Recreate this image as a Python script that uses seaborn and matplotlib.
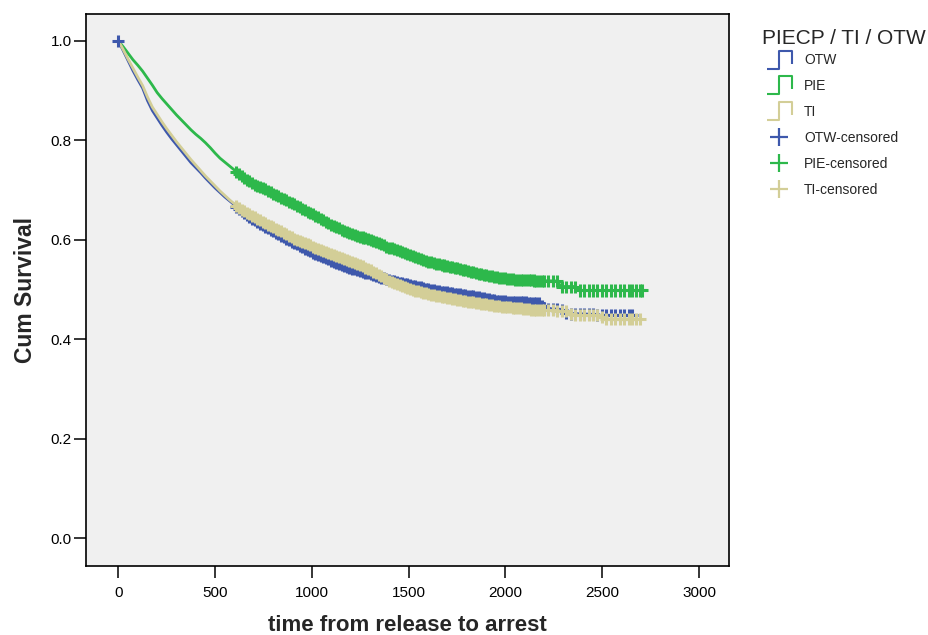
import numpy as np
import pandas as pd
import matplotlib
matplotlib.use("Agg")
import matplotlib.pyplot as plt
import seaborn as sns
from matplotlib.lines import Line2D
from matplotlib.path import Path

# Datos (Kaplan-Meier, supervivencia acumulada por grupo)
groups = ["OTW", "PIE", "TI"]

otw_time = [0, 25, 50, 75, 100, 125, 150, 175, 200, 225, 250, 275, 300, 325, 350, 375,
            400, 425, 450, 475, 500, 525, 550, 575, 600, 625, 650, 700, 750, 800, 850,
            900, 950, 1000, 1050, 1100, 1150, 1200, 1250, 1300, 1350, 1400, 1450, 1500,
            1550, 1600, 1650, 1700, 1750, 1800, 1850, 1900, 1950, 2000, 2050, 2100, 2150,
            2180, 2195, 2290, 2310, 2450, 2470, 2655]
otw_surv = [1.000, 0.980, 0.960, 0.940, 0.922, 0.905, 0.880, 0.860, 0.845, 0.830, 0.816,
            0.803, 0.791, 0.779, 0.767, 0.755, 0.745, 0.735, 0.724, 0.714, 0.704, 0.695,
            0.686, 0.678, 0.670, 0.661, 0.653, 0.640, 0.628, 0.617, 0.606, 0.595, 0.585,
            0.575, 0.566, 0.558, 0.550, 0.543, 0.537, 0.531, 0.525, 0.519, 0.514, 0.510,
            0.505, 0.501, 0.497, 0.494, 0.491, 0.488, 0.485, 0.481, 0.478, 0.476, 0.475,
            0.474, 0.473, 0.472, 0.462, 0.460, 0.452, 0.450, 0.448, 0.448]

pie_time = [0, 25, 50, 75, 100, 125, 150, 175, 200, 225, 250, 275, 300, 325, 350, 375,
            400, 425, 450, 475, 500, 525, 550, 575, 600, 625, 650, 700, 750, 800, 850,
            900, 950, 1000, 1050, 1100, 1150, 1200, 1250, 1300, 1350, 1400, 1450, 1500,
            1550, 1600, 1650, 1700, 1750, 1800, 1850, 1900, 1950, 2000, 2050, 2100, 2150,
            2270, 2285, 2360, 2375, 2707]
pie_surv = [1.000, 0.988, 0.975, 0.962, 0.951, 0.939, 0.925, 0.911, 0.896, 0.884, 0.873,
            0.862, 0.851, 0.841, 0.831, 0.821, 0.812, 0.804, 0.795, 0.785, 0.774, 0.764,
            0.756, 0.748, 0.740, 0.731, 0.724, 0.712, 0.703, 0.693, 0.683, 0.673, 0.662,
            0.652, 0.641, 0.630, 0.621, 0.613, 0.606, 0.600, 0.592, 0.584, 0.578, 0.571,
            0.563, 0.556, 0.551, 0.547, 0.543, 0.538, 0.533, 0.529, 0.525, 0.522, 0.520,
            0.519, 0.518, 0.517, 0.506, 0.506, 0.498, 0.498]

ti_time = [0, 25, 50, 75, 100, 125, 150, 175, 200, 225, 250, 275, 300, 325, 350, 375,
           400, 425, 450, 475, 500, 525, 550, 575, 600, 625, 650, 700, 750, 800, 850,
           900, 950, 1000, 1050, 1100, 1150, 1200, 1250, 1300, 1350, 1400, 1450, 1500,
           1550, 1600, 1650, 1700, 1750, 1800, 1850, 1900, 1950, 2000, 2050, 2100, 2150,
           2320, 2340, 2490, 2510, 2695]
ti_surv = [1.000, 0.982, 0.963, 0.945, 0.927, 0.910, 0.887, 0.867, 0.852, 0.837, 0.823,
           0.810, 0.797, 0.785, 0.773, 0.761, 0.750, 0.739, 0.728, 0.718, 0.708, 0.698,
           0.689, 0.680, 0.672, 0.664, 0.657, 0.646, 0.635, 0.625, 0.615, 0.604, 0.595,
           0.587, 0.579, 0.571, 0.564, 0.557, 0.549, 0.539, 0.528, 0.517, 0.509, 0.502,
           0.496, 0.491, 0.487, 0.483, 0.479, 0.476, 0.473, 0.470, 0.467, 0.465, 0.463,
           0.461, 0.459, 0.457, 0.449, 0.448, 0.440, 0.440]

# Tiempos censurados (banda densa de marcas "+")
censor_times = [610, 623, 637, 650, 664, 677, 691, 705, 718, 732, 745, 759, 773, 786, 800,
                813, 827, 841, 854, 868, 881, 895, 909, 922, 936, 949, 963, 977, 990, 1004,
                1017, 1031, 1045, 1058, 1072, 1085, 1099, 1113, 1126, 1140, 1153, 1167, 1181,
                1194, 1208, 1221, 1235, 1249, 1262, 1276, 1289, 1303, 1317, 1330, 1344, 1357,
                1371, 1385, 1398, 1412, 1425, 1439, 1453, 1466, 1480, 1493, 1507, 1521, 1534,
                1548, 1561, 1575, 1589, 1602, 1616, 1629, 1643, 1657, 1670, 1684, 1697, 1711,
                1725, 1738, 1752, 1765, 1779, 1793, 1806, 1820, 1833, 1847, 1861, 1874, 1888,
                1901, 1915, 1929, 1942, 1956, 1969, 1983, 1997, 2010, 2024, 2037, 2051, 2065,
                2078, 2092, 2105, 2119, 2133, 2146, 2160, 2173, 2187, 2200, 2222, 2245, 2268,
                2291, 2314, 2337, 2360, 2383, 2406, 2429, 2452, 2475, 2498, 2521, 2544, 2567,
                2590, 2613, 2636, 2655, 2674, 2695, 2707]
otw_extra_censor = [0]

colors = {"OTW": "#3E58AC", "PIE": "#2DB84B", "TI": "#D3CE97"}

curves = {"OTW": (otw_time, otw_surv), "PIE": (pie_time, pie_surv), "TI": (ti_time, ti_surv)}

# Tablas para seaborn
rows, crows = [], []
for g in groups:
    t, s = curves[g]
    for ti, si in zip(t, s):
        rows.append({"time": ti, "surv": si, "group": g})
    cens = [c for c in censor_times if c <= t[-1]]
    if g == "OTW":
        cens = otw_extra_censor + cens
    # las marcas se colocan sobre la curva dibujada
    for c, y in zip(cens, np.interp(cens, t, s)):
        crows.append({"time": c, "surv": y, "group": g})
df = pd.DataFrame(rows)
dfc = pd.DataFrame(crows)

sns.set_style("white")
plt.rcParams["font.family"] = ["Liberation Sans", "DejaVu Sans"]

fig = plt.figure(figsize=(9.29, 6.35), dpi=100)
ax = fig.add_axes([86.5 / 929, 69 / 635, 642.5 / 929, 552 / 635])
ax.set_facecolor("#F0F0F0")

sns.lineplot(data=df, x="time", y="surv", hue="group", hue_order=groups, palette=colors,
             estimator=None, sort=False, legend=False, linewidth=2.0, ax=ax)
sns.scatterplot(data=dfc, x="time", y="surv", hue="group", hue_order=groups, palette=colors,
                marker="+", s=75, linewidth=2.2, legend=False, ax=ax, zorder=3)

ax.set_xlim(-165, 3155)
ax.set_ylim(-0.056, 1.054)
ax.set_xticks([0, 500, 1000, 1500, 2000, 2500, 3000])
ax.set_yticks([0.0, 0.2, 0.4, 0.6, 0.8, 1.0])
ax.set_yticklabels(["0.0", "0.2", "0.4", "0.6", "0.8", "1.0"])
ax.tick_params(axis="both", direction="out", length=8.6, width=1.1, labelsize=11,
               bottom=True, left=True, color="black", labelcolor="black")
ax.tick_params(axis="x", pad=5.8)
ax.tick_params(axis="y", pad=2)
for sp in ax.spines.values():
    sp.set_visible(True)
    sp.set_color("black")
    sp.set_linewidth(1.2)

ax.set_xlabel("time from release to arrest", fontsize=16, fontweight="bold", labelpad=11)
ax.set_ylabel("Cum Survival", fontsize=16.5, fontweight="bold", labelpad=10)

# Leyenda estilo SPSS
step_path = Path([(-1, -0.72), (0, -0.72), (0, 0.72), (1, 0.72), (1, -0.3)],
                 [Path.MOVETO] + [Path.LINETO] * 4)
handles = []
for g in groups:
    handles.append(Line2D([], [], linestyle="none", marker=step_path, markersize=18,
                          markerfacecolor="none", markeredgecolor=colors[g],
                          markeredgewidth=1.5))
for g in groups:
    handles.append(Line2D([], [], linestyle="none", marker="+", markersize=13,
                          markeredgecolor=colors[g], markeredgewidth=1.6))
labels = groups + [g + "-censored" for g in groups]
fig.text(762 / 929, 1 - 39 / 635, "PIECP / TI / OTW", fontsize=15, ha="left", va="center")
fig.legend(handles, labels, loc="upper left",
           bbox_to_anchor=(765 / 929, 1 - 53.5 / 635), frameon=False, fontsize=10,
           handlelength=2.0, handletextpad=0.8, labelspacing=0.85, borderpad=0,
           borderaxespad=0)

fig.savefig("out.png", dpi=100)
